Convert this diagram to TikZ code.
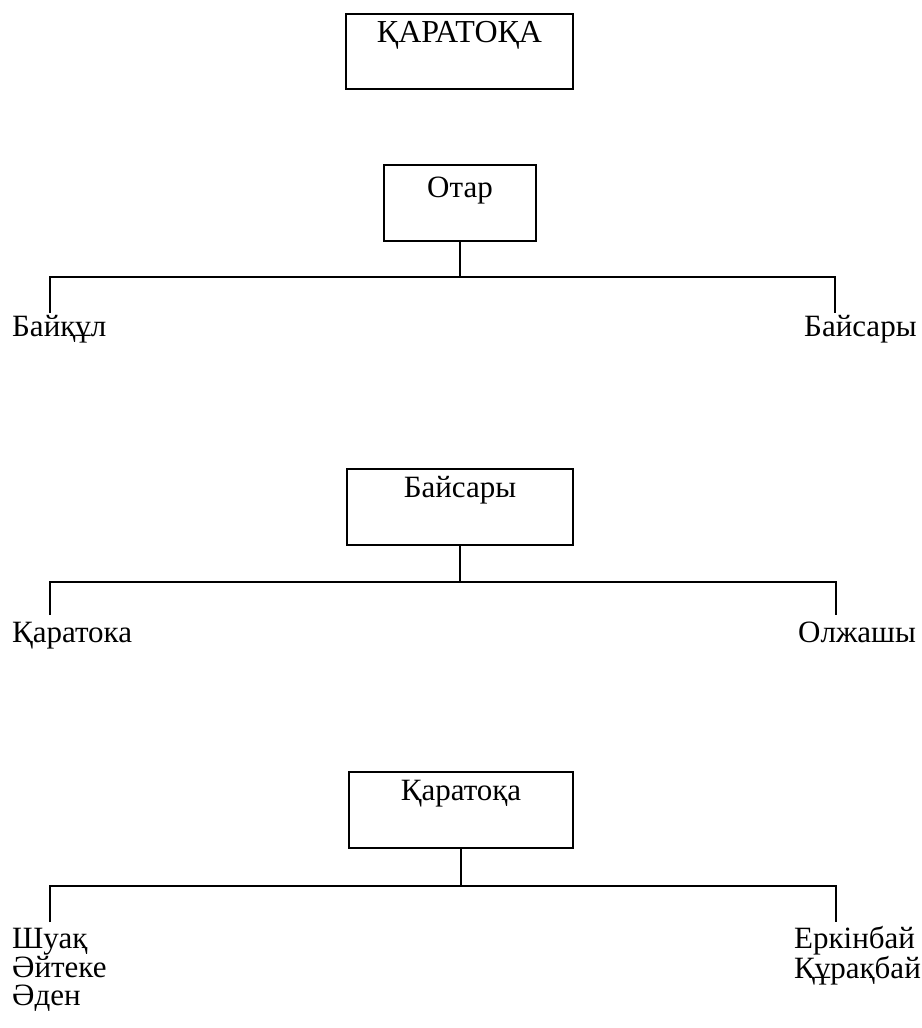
\documentclass[tikz,border=0pt]{standalone}
\usepackage{fontspec}
\setmainfont{Liberation Serif}
\begin{document}
\begin{tikzpicture}[x=1pt,y=-1pt,
  every node/.style={font=\fontsize{31}{28.5}\selectfont, inner sep=0pt},
  famebox/.style={draw, line width=1.8pt, anchor=north, align=center},
  link/.style={line width=1.8pt},
  namelbl/.style={anchor=base west},
  multilbl/.style={anchor=north west, align=left}]
\useasboundingbox[fill=white] (0,0) rectangle (921,1028);
% title
\node[famebox, font=\fontsize{32}{28}\selectfont, minimum width=227pt, text height=29pt, text depth=46pt] (t0) at (459.5,13) {ҚАРАТОҚА};
% level 1
\node[famebox, minimum width=152pt, text height=33pt, text depth=43pt] (b1) at (460,164) {Отар};
\coordinate (j1) at (460,277);
\coordinate (l1) at (50,313);
\coordinate (r1) at (835,313);
\node[namelbl] (n11) at (12,336) {Байқұл};
\node[namelbl] (n12) at (804,336) {Байсары};
\draw[link] (b1.south) -- (j1);
\draw[link] (l1) |- (j1) -| (r1);
% level 2
\node[famebox, minimum width=226pt, text height=29pt, text depth=47pt] (b2) at (460,468) {Байсары};
\coordinate (j2) at (460,582);
\coordinate (l2) at (50,615);
\coordinate (r2) at (836,615);
\node[namelbl] (n21) at (12,642) {Қаратока};
\node[namelbl] (n22) at (798,642) {Олжашы};
\draw[link] (b2.south) -- (j2);
\draw[link] (l2) |- (j2) -| (r2);
% level 3
\node[famebox, minimum width=224pt, text height=29pt, text depth=47pt] (b3) at (461,771) {Қаратоқа};
\coordinate (j3) at (461,886);
\coordinate (l3) at (50,922);
\coordinate (r3) at (836,922);
\node[multilbl] (n31) at (12,928) {Шуақ\\Әйтеке\\Әден};
\node[multilbl] (n32) at (794,926) {Еркінбай\\Құрақбай};
\draw[link] (b3.south) -- (j3);
\draw[link] (l3) |- (j3) -| (r3);
\end{tikzpicture}
\end{document}
